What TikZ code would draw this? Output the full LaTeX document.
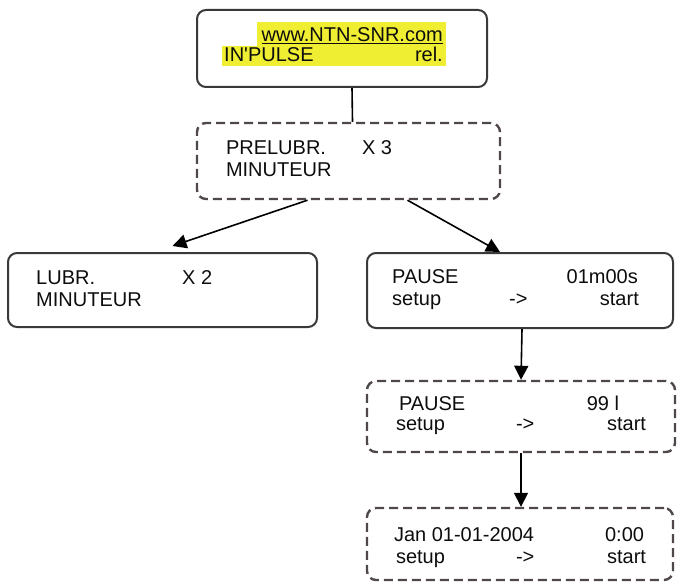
\documentclass[tikz,border=0pt]{standalone}
\usepackage{fontspec}
\setmainfont{Liberation Sans}
\usetikzlibrary{arrows.meta,positioning}
\newcommand{\lcdfont}{\fontsize{20}{24}\selectfont}
\definecolor{hilite}{RGB}{240,238,50}
\definecolor{frame}{RGB}{58,56,56}
\definecolor{dashframe}{RGB}{80,72,72}
\tikzset{
    every picture/.style={x=1pt,y=-1pt,>={Triangle[length=14pt,width=14pt]}},
    screen/.style={rectangle,draw=frame,line width=2pt,rounded corners=9pt,inner sep=0pt},
    menu/.style={screen,draw=dashframe,line width=2.4pt,dash pattern=on 9pt off 5pt},
    lft/.style={anchor=base west,inner sep=0pt,font=\lcdfont,text=black!95},
    rgt/.style={anchor=base east,inner sep=0pt,font=\lcdfont,text=black!95},
    flow/.style={->,line width=1.6pt,black}
}
\begin{document}
\begin{tikzpicture}
    \useasboundingbox (0,0) rectangle (679,583);
    % highlighted banner
    \fill[hilite] (257,22) rectangle (446,46);
    \fill[hilite] (222,46) rectangle (446,66);
    \node[screen,minimum width=290pt,minimum height=77pt] (top) at (342,48.5) {};
    \node[menu,minimum width=303pt,minimum height=76pt] (prelub) at (348.5,161) {};
    \node[screen,minimum width=309pt,minimum height=74pt] (lubr) at (162.5,290) {};
    \node[screen,minimum width=306pt,minimum height=75pt] (pause) at (520,290.5) {};
    \node[menu,minimum width=308pt,minimum height=71pt] (pausevol) at (521,416.5) {};
    \node[menu,minimum width=306pt,minimum height=72pt] (date) at (520,544) {};

    \node[rgt] (url)   at ([xshift=-45pt,yshift=-33pt]top.north east) {\underline{www.NTN-SNR.com}};
    \node[lft] (brand) at ([xshift=28pt,yshift=-53pt]top.north west) {IN\textquotesingle PULSE};
    \node[rgt] (rel)   at ([xshift=-45pt,yshift=-53pt]top.north east) {rel.};

    \node[lft] (prelub1) at ([xshift=30pt,yshift=-33pt]prelub.north west) {PRELUBR.};
    \node[lft] (prelub2) at ([xshift=166pt,yshift=-33pt]prelub.north west) {X 3};
    \node[lft] (prelub3) at ([xshift=30pt,yshift=-55pt]prelub.north west) {MINUTEUR};

    \node[lft] (lubr1) at ([xshift=29pt,yshift=-32pt]lubr.north west) {LUBR.};
    \node[lft] (lubr2) at ([xshift=175pt,yshift=-32pt]lubr.north west) {X 2};
    \node[lft] (lubr3) at ([xshift=29pt,yshift=-54pt]lubr.north west) {MINUTEUR};

    \node[lft] (pause1) at ([xshift=26pt,yshift=-31pt]pause.north west) {PAUSE};
    \node[rgt] (pause2) at ([xshift=-36pt,yshift=-31pt]pause.north east) {01m00s};
    \node[lft] (pause3) at ([xshift=26pt,yshift=-53pt]pause.north west) {setup};
    \node[lft] (pause4) at ([xshift=143pt,yshift=-53pt]pause.north west) {->};
    \node[rgt] (pause5) at ([xshift=-35pt,yshift=-53pt]pause.north east) {start};

    \node[lft] (vol1) at ([xshift=33pt,yshift=-31pt]pausevol.north west) {PAUSE};
    \node[rgt] (vol2) at ([xshift=-57pt,yshift=-31pt]pausevol.north east) {99 l};
    \node[lft] (vol3) at ([xshift=30pt,yshift=-51pt]pausevol.north west) {setup};
    \node[lft] (vol4) at ([xshift=150pt,yshift=-51pt]pausevol.north west) {->};
    \node[rgt] (vol5) at ([xshift=-30pt,yshift=-51pt]pausevol.north east) {start};

    \node[lft] (date1) at ([xshift=28pt,yshift=-35pt]date.north west) {Jan 01-01-2004};
    \node[rgt] (date2) at ([xshift=-30pt,yshift=-35pt]date.north east) {0:00};
    \node[lft] (date3) at ([xshift=30pt,yshift=-57pt]date.north west) {setup};
    \node[lft] (date4) at ([xshift=150pt,yshift=-57pt]date.north west) {->};
    \node[rgt] (date5) at ([xshift=-28pt,yshift=-57pt]date.north east) {start};

    \draw[line width=1.6pt] ([xshift=10pt]top.south) -- ([xshift=4pt]prelub.north);
    \draw[flow] ([xshift=-41pt]prelub.south) -- ([xshift=10pt,yshift=6pt]lubr.north);
    \draw[flow] ([xshift=59pt]prelub.south) -- ([xshift=-20pt]pause.north);
    \draw[flow] ([xshift=2pt]pause.south) -- (pausevol.north);
    \draw[flow] (pausevol.south) -- ([xshift=1pt]date.north);
\end{tikzpicture}
\end{document}
